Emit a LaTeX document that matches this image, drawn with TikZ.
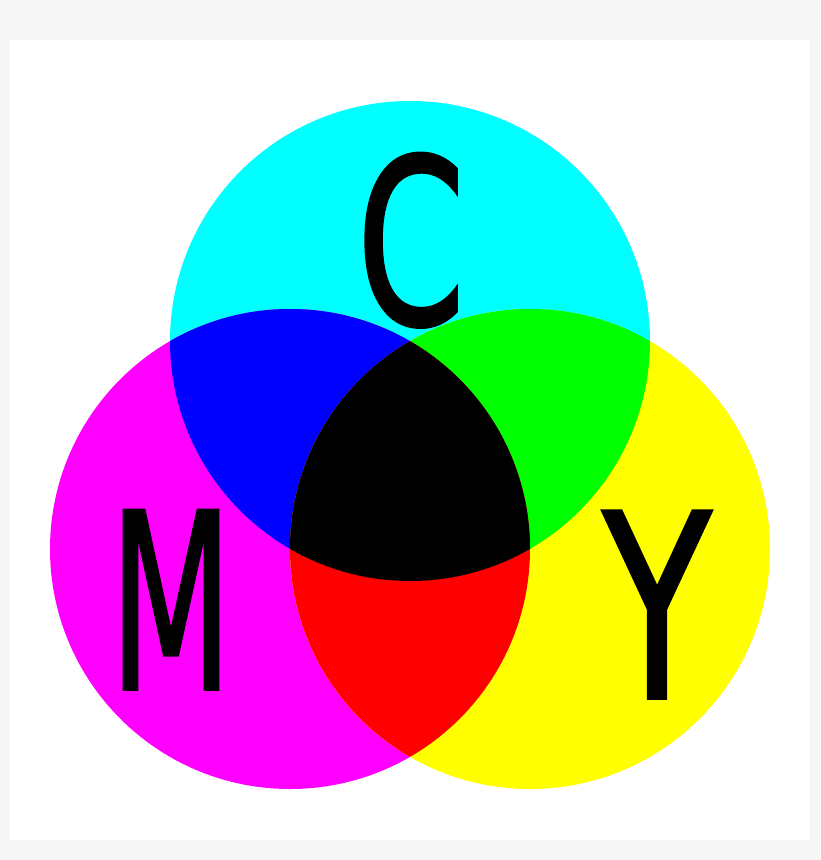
\documentclass[tikz,border=0pt]{standalone}
\usepackage{fontspec}
\newfontfamily\letterfont{DejaVu Sans}[FakeBold=1.5]
\definecolor{bggray}{RGB}{246,246,246}
\definecolor{cyanc}{RGB}{0,255,255}
\definecolor{magentac}{RGB}{255,0,255}
\definecolor{yellowc}{RGB}{255,255,0}
\definecolor{bluec}{RGB}{0,0,255}
\definecolor{greenc}{RGB}{0,255,0}
\definecolor{redc}{RGB}{255,0,0}
\tikzset{
  letter/.style={inner sep=0pt, outer sep=0pt, anchor=base, text=black},
}
\begin{document}
\begin{tikzpicture}[x=1pt,y=-1pt]
\fill[bggray] (0,0) rectangle (820,860);
\useasboundingbox (0,0) rectangle (820,860);
\fill[white] (10,40) rectangle (810,840);
\coordinate (cc) at (410,341);
\coordinate (mc) at (290,549);
\coordinate (yc) at (530,549);
\def\R{240pt}
\fill[cyanc] (cc) circle[radius=\R];
\fill[magentac] (mc) circle[radius=\R];
\fill[yellowc] (yc) circle[radius=\R];
\begin{scope}
  \clip (cc) circle[radius=\R];
  \fill[bluec] (mc) circle[radius=\R];
\end{scope}
\begin{scope}
  \clip (cc) circle[radius=\R];
  \fill[greenc] (yc) circle[radius=\R];
\end{scope}
\begin{scope}
  \clip (mc) circle[radius=\R];
  \fill[redc] (yc) circle[radius=\R];
\end{scope}
\begin{scope}
  \clip (cc) circle[radius=\R];
  \clip (mc) circle[radius=\R];
  \fill[black] (yc) circle[radius=\R];
\end{scope}
\node[letter, xscale=0.675, font=\letterfont\fontsize{230}{230}\selectfont] (lc) at (411,324) {C};
\node[letter, xscale=0.58, font=\letterfont\fontsize{245}{245}\selectfont] (lm) at (171,689) {M};
\node[letter, xscale=0.69, font=\letterfont\fontsize{256}{256}\selectfont] (ly) at (657,698) {Y};
\end{tikzpicture}
\end{document}
